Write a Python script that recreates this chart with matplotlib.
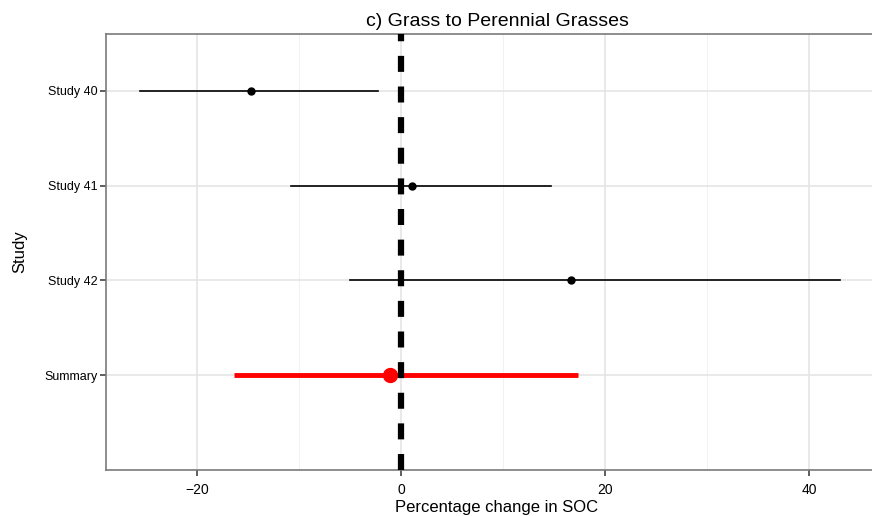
import matplotlib
matplotlib.use("Agg")
import matplotlib.pyplot as plt

plt.rcParams['font.family'] = ['Liberation Sans', 'DejaVu Sans']

studies = ["Study 40", "Study 41", "Study 42", "Summary"]
estimate = [-14.7, 1.1, 16.6, -1.1]
lower = [-25.6, -10.8, -5.0, -16.4]
upper = [-2.3, 14.7, 43.0, 17.3]
xticks = [-20, 0, 20, 40]
minor_xticks = [-10, 10, 30]

fig = plt.figure(figsize=(8.72, 5.16), dpi=100)
ax = fig.add_axes([106/872, 1-470/516, (888-106)/872, (470-34)/516])

ypos = [4, 3, 2, 1]
ax.set_xlim(-28.9, 47.7)
ax.set_ylim(0.0, 4.6)

for x in xticks:
    ax.axvline(x, color='#e3e3e3', lw=1.1, zorder=0)
for x in minor_xticks:
    ax.axvline(x, color='#f2f2f2', lw=0.8, zorder=0)
for y in ypos:
    ax.axhline(y, color='#e3e3e3', lw=1.1, zorder=0)

for s, e, lo, hi, y in zip(studies, estimate, lower, upper, ypos):
    if s == "Summary":
        ax.plot([lo, hi], [y, y], color='#ff0000', lw=3.5, solid_capstyle='butt', zorder=2)
        ax.plot([e], [y], 'o', color='#ff0000', ms=10, zorder=3)
    else:
        ax.plot([lo, hi], [y, y], color='black', lw=1.2, zorder=2)
        ax.plot([e], [y], 'o', color='black', ms=5, zorder=3)

ax.plot([0, 0], [0.0, 4.6], color='black', lw=4.5, linestyle=(0, (2.56, 2.34)),
        solid_capstyle='butt', dash_capstyle='butt', zorder=4, clip_on=True)

ax.set_yticks(ypos)
ax.set_yticklabels(studies, fontsize=9)
ax.set_xticks(xticks)
ax.set_xticklabels([("\u2212" + str(abs(t))) if t < 0 else str(t) for t in xticks], fontsize=10)

for side in ['left', 'bottom', 'top']:
    ax.spines[side].set_color('#7a7a7a')
    ax.spines[side].set_linewidth(1.2)
ax.spines['right'].set_visible(False)
ax.tick_params(axis='both', length=4, width=1.1, color='#333333', labelcolor='black', pad=2)
ax.tick_params(axis='x', pad=5)

ax.set_xlabel("Percentage change in SOC", fontsize=12, labelpad=2.5)
ax.set_ylabel("Study", fontsize=12, labelpad=12)
ax.set_title("c) Grass to Perennial Grasses", fontsize=14, pad=6)

fig.savefig("out.png", dpi=100)
